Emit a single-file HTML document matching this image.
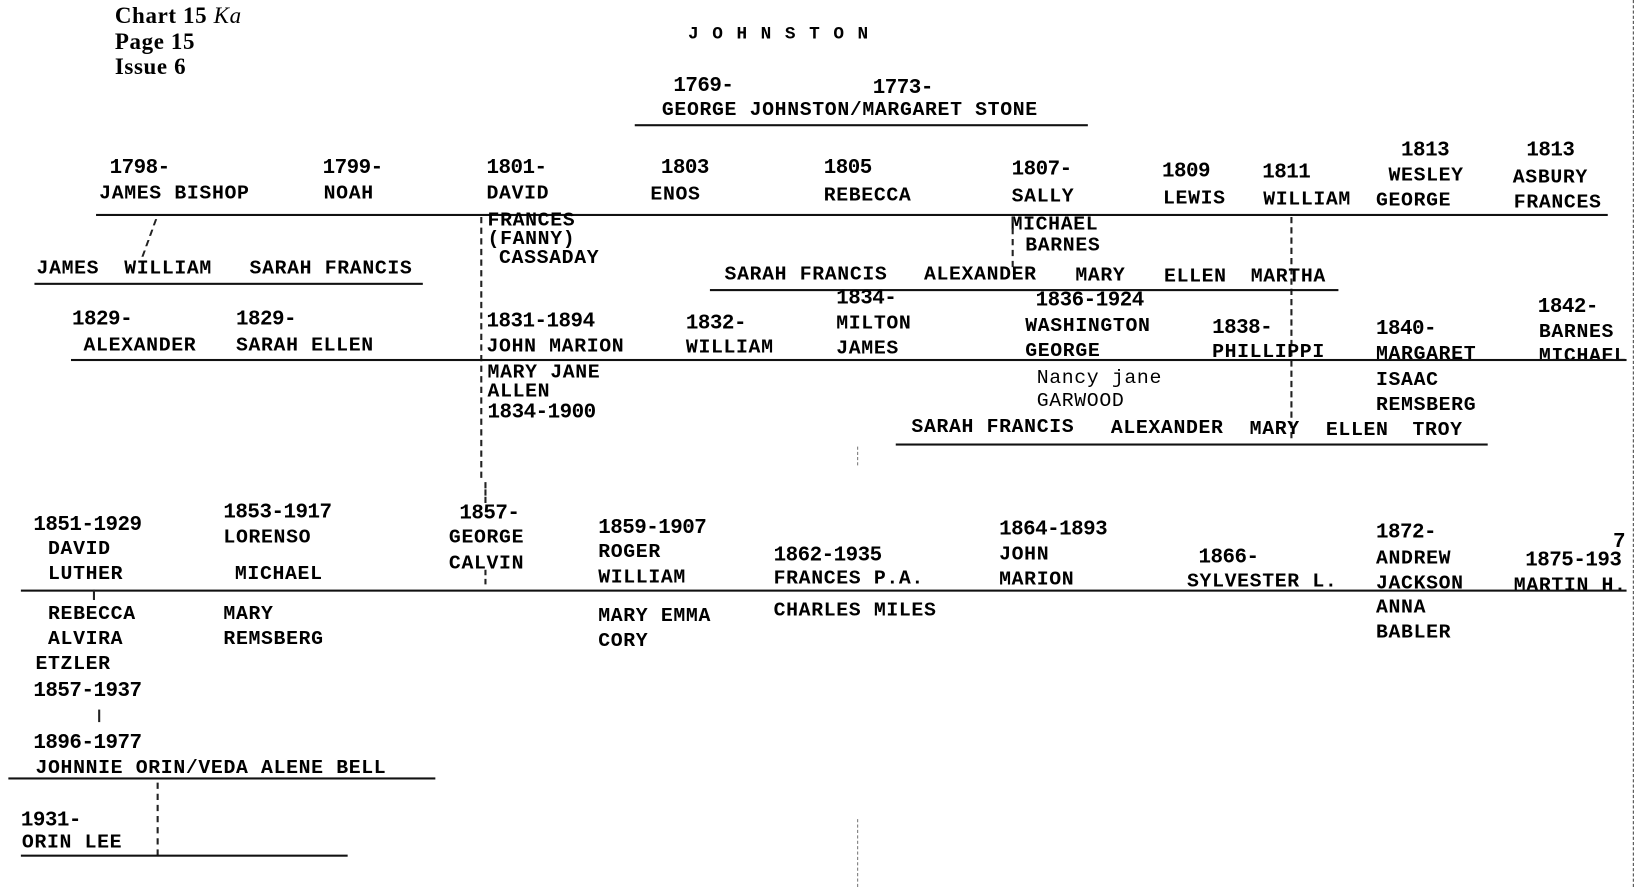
<!DOCTYPE html>
<html><head><meta charset="utf-8"><style>
html,body{margin:0;padding:0;background:#fff;overflow:hidden}
#w{position:absolute;left:0;top:0;width:1568px;height:850px;transform:scale(1.0440,1.0435);transform-origin:0 0}
.t{position:absolute;font-family:"Liberation Mono",monospace;font-weight:bold;font-size:19px;line-height:19px;color:#000;white-space:pre;letter-spacing:0.6px}
.y{font-size:20px;letter-spacing:-0.5px}
.h{position:absolute;height:2px;background:#111}
.v{position:absolute;width:0;border-left:2px dashed #222}
</style></head><body><div id="w">
<div class="t" style="left:110px;top:5px;font-family:'Liberation Serif',serif;font-size:22px">Chart 15 <i style="font-weight:normal">Ka</i></div>
<div class="t" style="left:110px;top:30px;font-family:'Liberation Serif',serif;font-size:22px">Page 15</div>
<div class="t" style="left:110px;top:54px;font-family:'Liberation Serif',serif;font-size:22px">Issue 6</div>
<div class="t" style="left:659px;top:24px;font-size:17px;letter-spacing:13px">JOHNSTON</div>

<div class="t y" style="left:645px;top:73px">1769-</div>
<div class="t y" style="left:836px;top:75px">1773-</div>
<div class="t" style="left:634px;top:96px">GEORGE JOHNSTON/MARGARET STONE</div>
<div class="h" style="left:608px;top:119px;width:434px"></div>

<div class="t y" style="left:105px;top:152px">1798-</div>
<div class="t y" style="left:309px;top:152px">1799-</div>
<div class="t y" style="left:466px;top:152px">1801-</div>
<div class="t y" style="left:633px;top:152px">1803</div>
<div class="t y" style="left:789px;top:152px">1805</div>
<div class="t y" style="left:969px;top:153px">1807-</div>
<div class="t y" style="left:1113px;top:155px">1809</div>
<div class="t y" style="left:1209px;top:156px">1811</div>
<div class="t y" style="left:1342px;top:135px">1813</div>
<div class="t y" style="left:1462px;top:135px">1813</div>
<div class="t" style="left:95px;top:176px">JAMES BISHOP</div>
<div class="t" style="left:310px;top:176px">NOAH</div>
<div class="t" style="left:466px;top:176px">DAVID</div>
<div class="t" style="left:623px;top:177px">ENOS</div>
<div class="t" style="left:789px;top:178px">REBECCA</div>
<div class="t" style="left:969px;top:179px">SALLY</div>
<div class="t" style="left:1114px;top:181px">LEWIS</div>
<div class="t" style="left:1210px;top:182px">WILLIAM</div>
<div class="t" style="left:1330px;top:159px">WESLEY</div>
<div class="t" style="left:1318px;top:183px">GEORGE</div>
<div class="t" style="left:1449px;top:161px">ASBURY</div>
<div class="t" style="left:1450px;top:185px">FRANCES</div>
<div class="h" style="left:92px;top:205px;width:1448px"></div>

<div class="t" style="left:467px;top:202px">FRANCES</div>
<div class="t" style="left:467px;top:220px">(FANNY)</div>
<div class="t" style="left:478px;top:238px">CASSADAY</div>
<div class="v" style="left:460px;top:208px;height:250px"></div>
<div class="t" style="left:968px;top:206px">MICHAEL</div>
<div class="t" style="left:982px;top:226px">BARNES</div>
<div class="v" style="left:969px;top:208px;height:48px"></div>
<div class="v" style="left:1236px;top:208px;height:212px"></div>
<div class="v" style="left:142px;top:210px;height:36px;transform:skewX(-20deg)"></div>

<div class="t" style="left:35px;top:248px">JAMES  WILLIAM   SARAH FRANCIS</div>
<div class="h" style="left:33px;top:271px;width:372px"></div>
<div class="t" style="left:694px;top:254px">SARAH FRANCIS</div>
<div class="t" style="left:885px;top:254px">ALEXANDER</div>
<div class="t" style="left:1030px;top:255px">MARY</div>
<div class="t" style="left:1115px;top:256px">ELLEN</div>
<div class="t" style="left:1198px;top:256px">MARTHA</div>
<div class="h" style="left:680px;top:277px;width:602px"></div>

<div class="t y" style="left:69px;top:297px">1829-</div>
<div class="t y" style="left:226px;top:297px">1829-</div>
<div class="t y" style="left:466px;top:299px">1831-1894</div>
<div class="t y" style="left:657px;top:301px">1832-</div>
<div class="t y" style="left:801px;top:277px">1834-</div>
<div class="t y" style="left:992px;top:279px">1836-1924</div>
<div class="t y" style="left:1161px;top:305px">1838-</div>
<div class="t y" style="left:1318px;top:306px">1840-</div>
<div class="t y" style="left:1473px;top:285px">1842-</div>
<div class="t" style="left:80px;top:322px">ALEXANDER</div>
<div class="t" style="left:226px;top:322px">SARAH ELLEN</div>
<div class="t" style="left:466px;top:323px">JOHN MARION</div>
<div class="t" style="left:657px;top:324px">WILLIAM</div>
<div class="t" style="left:801px;top:301px">MILTON</div>
<div class="t" style="left:801px;top:325px">JAMES</div>
<div class="t" style="left:982px;top:303px">WASHINGTON</div>
<div class="t" style="left:982px;top:327px">GEORGE</div>
<div class="t" style="left:1161px;top:328px">PHILLIPPI</div>
<div class="t" style="left:1318px;top:330px">MARGARET</div>
<div class="t" style="left:1474px;top:309px">BARNES</div>
<div class="t" style="left:1474px;top:332px">MICHAEL</div>
<div class="h" style="left:68px;top:344px;width:1490px"></div>

<div class="t" style="left:467px;top:348px">MARY JANE</div>
<div class="t" style="left:467px;top:366px">ALLEN</div>
<div class="t y" style="left:467px;top:386px">1834-1900</div>
<div class="t" style="left:993px;top:353px;font-weight:normal">Nancy jane</div>
<div class="t" style="left:993px;top:375px;font-weight:normal">GARWOOD</div>
<div class="t" style="left:1318px;top:355px">ISAAC</div>
<div class="t" style="left:1318px;top:379px">REMSBERG</div>
<div class="t" style="left:873px;top:400px">SARAH FRANCIS</div>
<div class="t" style="left:1064px;top:401px">ALEXANDER</div>
<div class="t" style="left:1197px;top:402px">MARY</div>
<div class="t" style="left:1270px;top:403px">ELLEN</div>
<div class="t" style="left:1353px;top:403px">TROY</div>
<div class="h" style="left:858px;top:425px;width:567px"></div>

<div class="t y" style="left:32px;top:494px">1851-1929</div>
<div class="t" style="left:46px;top:517px">DAVID</div>
<div class="t" style="left:46px;top:541px">LUTHER</div>
<div class="t y" style="left:214px;top:482px">1853-1917</div>
<div class="t" style="left:214px;top:506px">LORENSO</div>
<div class="t" style="left:225px;top:541px">MICHAEL</div>
<div class="t y" style="left:440px;top:483px">1857-</div>
<div class="t" style="left:430px;top:506px">GEORGE</div>
<div class="t" style="left:430px;top:531px">CALVIN</div>
<div class="t y" style="left:573px;top:497px">1859-1907</div>
<div class="t" style="left:573px;top:520px">ROGER</div>
<div class="t" style="left:573px;top:544px">WILLIAM</div>
<div class="t y" style="left:741px;top:523px">1862-1935</div>
<div class="t" style="left:741px;top:545px">FRANCES P.A.</div>
<div class="t y" style="left:957px;top:498px">1864-1893</div>
<div class="t" style="left:957px;top:522px">JOHN</div>
<div class="t" style="left:957px;top:546px">MARION</div>
<div class="t y" style="left:1148px;top:525px">1866-</div>
<div class="t" style="left:1137px;top:548px">SYLVESTER L.</div>
<div class="t y" style="left:1318px;top:501px">1872-</div>
<div class="t" style="left:1318px;top:526px">ANDREW</div>
<div class="t" style="left:1318px;top:550px">JACKSON</div>
<div class="t y" style="left:1461px;top:528px">1875-193</div>
<div class="t y" style="left:1545px;top:510px">7</div>
<div class="t" style="left:1450px;top:552px">MARTIN H.</div>
<div class="h" style="left:20px;top:565px;width:1538px"></div>
<div class="v" style="left:464px;top:462px;height:20px"></div>
<div class="v" style="left:464px;top:546px;height:14px"></div>
<div class="v" style="left:89px;top:565px;height:10px"></div>

<div class="t" style="left:46px;top:579px">REBECCA</div>
<div class="t" style="left:46px;top:603px">ALVIRA</div>
<div class="t" style="left:34px;top:627px">ETZLER</div>
<div class="t y" style="left:32px;top:653px">1857-1937</div>
<div class="t" style="left:214px;top:579px">MARY</div>
<div class="t" style="left:214px;top:603px">REMSBERG</div>
<div class="t" style="left:573px;top:581px">MARY EMMA</div>
<div class="t" style="left:573px;top:605px">CORY</div>
<div class="t" style="left:741px;top:576px">CHARLES MILES</div>
<div class="t" style="left:1318px;top:573px">ANNA</div>
<div class="t" style="left:1318px;top:597px">BABLER</div>
<div class="v" style="left:94px;top:680px;height:12px"></div>

<div class="t y" style="left:32px;top:703px">1896-1977</div>
<div class="t" style="left:34px;top:727px">JOHNNIE ORIN/VEDA ALENE BELL</div>
<div class="h" style="left:8px;top:745px;width:409px"></div>
<div class="v" style="left:150px;top:750px;height:70px"></div>
<div class="t y" style="left:20px;top:777px">1931-</div>
<div class="t" style="left:21px;top:798px">ORIN LEE</div>
<div class="h" style="left:20px;top:819px;width:313px"></div>

<div class="v" style="left:821px;top:428px;height:18px;border-left-width:1px;border-color:#777"></div>
<div class="v" style="left:821px;top:785px;height:65px;border-left-width:1px;border-color:#777"></div>
<div class="v" style="left:1564px;top:0px;height:850px;border-left-width:1px;border-color:#444"></div>
</div></body></html>
